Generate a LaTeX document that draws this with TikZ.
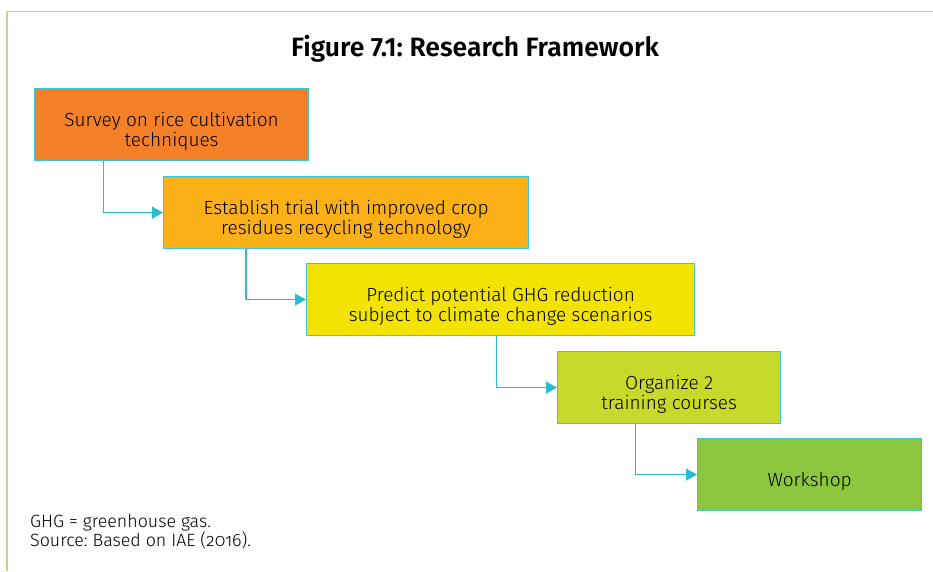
\documentclass[tikz,border=0pt]{standalone}
\usepackage{fontspec}
\setmainfont{Fira Sans Light}[BoldFont=Fira Sans SemiBold]
\usetikzlibrary{arrows.meta,calc}
\frenchspacing

\definecolor{frameline}{HTML}{B5DB8A}
\definecolor{boxline}{HTML}{3DC7D6}
\definecolor{arrowline}{HTML}{2BBCD0}
\definecolor{stepa}{HTML}{F48128}
\definecolor{stepb}{HTML}{FBB017}
\definecolor{stepc}{HTML}{F2E400}
\definecolor{stepd}{HTML}{C9D92C}
\definecolor{stepe}{HTML}{8CC63F}

% pushes the box text a little below the middle
\newcommand{\topgap}{\rule{0pt}{28pt}}

\tikzset{link/.style={draw=arrowline,line width=1.3pt,-{Triangle[length=11pt,width=12pt]}}}

\begin{document}
\begin{tikzpicture}[x=1pt,y=-1pt]

      \useasboundingbox (0,0) rectangle (933,571);
      \draw[frameline,line width=1.5pt] (7,571) -- (7,11.5) -- (933,11.5);

      \node[anchor=base,font=\bfseries\fontsize{26.5}{30}\selectfont] (title) at (475,56) {Figure 7.1: Research Framework};

      \begin{scope}[every node/.style={draw=boxline,line width=1.2pt,anchor=north west,align=center,
          minimum height=72pt,font=\fontsize{19}{20}\selectfont}]
        \node[fill=stepa,minimum width=274pt] (1) at (34,88)  {\topgap Survey on rice cultivation\\techniques};
        \node[fill=stepb,minimum width=365pt] (2) at (163,176) {\topgap Establish trial with improved crop\\residues recycling technology};
        \node[fill=stepc,minimum width=388pt] (3) at (306,263) {\topgap Predict potential GHG reduction\\subject to climate change scenarios};
        \node[fill=stepd,minimum width=223pt] (4) at (557,351) {\topgap Organize 2\\training courses};
        \node[fill=stepe,minimum width=224pt] (5) at (697,438) {\topgap Workshop};
      \end{scope}

      \draw[link] ($(1.south west)!0.252!(1.south east)$) |- (2.west);
      \draw[link] ($(2.south west)!0.227!(2.south east)$) |- (3.west);
      \draw[link] ($(3.south west)!0.49!(3.south east)$) |- (4.west);
      \draw[link] ($(4.south west)!0.35!(4.south east)$) |- (5.west);

      \begin{scope}[every node/.style={anchor=base west,inner sep=0pt,font=\fontsize{17.8}{20}\selectfont}]
        \node (note)   at (30,527) {GHG = greenhouse gas.};
        \node (source) at (30,546) {Source: Based on IAE ({\addfontfeatures{Numbers=OldStyle}2016}).};
      \end{scope}

    \end{tikzpicture}
\end{document}
